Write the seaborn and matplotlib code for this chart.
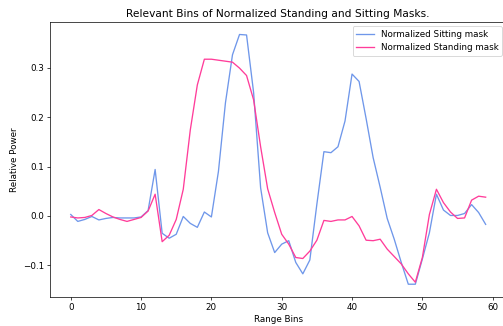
import numpy as np
import pandas as pd
import matplotlib
matplotlib.use("Agg")
import matplotlib.pyplot as plt
import seaborn as sns

range_bins = list(range(60))
sitting = [0.003, -0.011, -0.007, -0.001, -0.008, -0.005, -0.003, -0.004, -0.004, -0.004,
           -0.002, 0.011, 0.094, -0.035, -0.045, -0.037, -0.001, -0.015, -0.023, 0.008,
           -0.002, 0.09, 0.229, 0.326, 0.367, 0.366, 0.25, 0.057, -0.034, -0.074,
           -0.057, -0.05, -0.094, -0.117, -0.089, 0.024, 0.130, 0.128, 0.140, 0.192,
           0.287, 0.272, 0.197, 0.118, 0.058, -0.005, -0.047, -0.094, -0.138, -0.138,
           -0.087, -0.034, 0.044, 0.012, 0.001, 0.001, 0.005, 0.023, 0.007, -0.017]
standing = [-0.002, -0.004, -0.003, 0.001, 0.013, 0.005, -0.002, -0.007, -0.011, -0.007,
            -0.003, 0.010, 0.044, -0.052, -0.039, -0.007, 0.054, 0.174, 0.265, 0.317,
            0.317, 0.315, 0.313, 0.311, 0.299, 0.284, 0.235, 0.14, 0.055, 0.007,
            -0.037, -0.057, -0.084, -0.086, -0.071, -0.049, -0.009, -0.011, -0.008, -0.008,
            -0.001, -0.020, -0.049, -0.050, -0.047, -0.067, -0.082, -0.097, -0.117, -0.134,
            -0.084, 0.003, 0.054, 0.027, 0.008, -0.005, -0.004, 0.032, 0.040, 0.038]

labels = ["Normalized Sitting mask", "Normalized Standing mask"]
colors = ["#6f97ea", "#ff3d9a"]

df = pd.DataFrame({
    "bin": range_bins * 2,
    "power": sitting + standing,
    "mask": [labels[0]] * 60 + [labels[1]] * 60,
})

dpi = 63.4
fig = plt.figure(figsize=(503 / dpi, 326 / dpi), dpi=dpi)
ax = fig.add_axes([50 / 503, 29.3 / 326, 456.4 / 503, 274.7 / 326])
sns.lineplot(data=df, x="bin", y="power", hue="mask", palette=colors, ax=ax, linewidth=1.5)
ax.set_xlabel("Range Bins")
ax.set_ylabel("Relative Power")
ax.set_title("Relevant Bins of Normalized Standing and Sitting Masks.", fontsize=12)
ax.set_xticks([0, 10, 20, 30, 40, 50, 60])
ax.set_yticks([-0.1, 0.0, 0.1, 0.2, 0.3])
ax.legend(title=None, loc="upper right")
fig.savefig("out.png", dpi=dpi)
